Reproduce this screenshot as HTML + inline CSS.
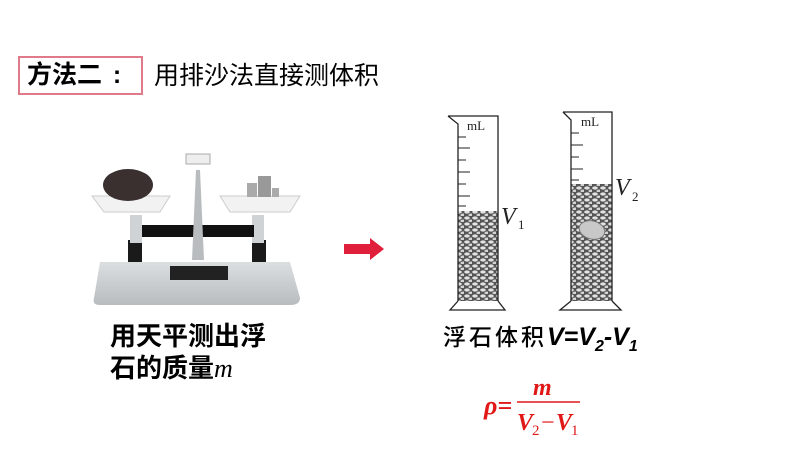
<!DOCTYPE html>
<html><head><meta charset="utf-8"><style>
html,body{margin:0;padding:0;background:#fff}
body{width:800px;height:450px;position:relative;overflow:hidden;font-family:"Liberation Sans","Noto Sans CJK SC",sans-serif}
.t{position:absolute;white-space:nowrap;color:#000}
</style></head><body>
<div style="position:absolute;left:18px;top:56px;width:125px;height:39px;border:2px solid #e07a88;box-sizing:border-box"></div>
<div class="t" style="left:27px;top:58px;font-size:25px;font-weight:bold;line-height:34px">方法二<span style="display:inline-block;width:30px;text-align:center">:</span></div>
<div class="t" style="left:154px;top:60px;font-size:25px;line-height:32px">用排沙法直接测体积</div>

<svg width="800" height="450" style="position:absolute;left:0;top:0">
<defs>
<pattern id="g" width="8" height="6" patternUnits="userSpaceOnUse">
<rect width="8" height="6" fill="#555"/>
<ellipse cx="3" cy="2" rx="2.8" ry="1.6" fill="#e2e2e2"/>
<ellipse cx="7" cy="5" rx="2.6" ry="1.5" fill="#d4d4d4"/>
</pattern>
<linearGradient id="base" x1="0" x2="0" y1="0" y2="1"><stop offset="0" stop-color="#dcdfe0"/><stop offset="1" stop-color="#b8bcbf"/></linearGradient>
</defs>
<!-- balance -->
<path d="M100 262 L290 262 L300 298 Q300 305 290 305 L100 305 Q92 305 94 298 Z" fill="url(#base)"/>
<rect x="170" y="266" width="58" height="14" fill="#222"/>
<rect x="128" y="240" width="14" height="22" fill="#1a1a1a"/>
<rect x="252" y="240" width="14" height="22" fill="#1a1a1a"/>
<rect x="130" y="215" width="12" height="28" fill="#cfd3d6"/>
<rect x="252" y="215" width="12" height="28" fill="#cfd3d6"/>
<rect x="142" y="225" width="112" height="12" fill="#111"/>
<path d="M196 170 L200 170 L204 260 L192 260 Z" fill="#b9bcbe"/>
<rect x="186" y="154" width="24" height="10" fill="#eee" stroke="#aaa"/>
<path d="M92 196 L170 196 L160 212 L104 212 Z" fill="#f2f2f2" stroke="#ccc"/>
<path d="M220 196 L300 196 L290 212 L230 212 Z" fill="#f2f2f2" stroke="#ccc"/>
<ellipse cx="128" cy="185" rx="25" ry="16" fill="#3a3030"/>
<rect x="247" y="183" width="10" height="14" fill="#aaa"/><rect x="258" y="176" width="13" height="21" fill="#999"/><rect x="272" y="188" width="7" height="9" fill="#aaa"/>
<!-- arrow -->
<path d="M344 244 L370 244 L370 238 L384 249 L370 260 L370 254 L344 254 Z" fill="#e0203a"/>
<!-- cylinder 1 -->
<rect x="458" y="211" width="40" height="90" fill="url(#g)"/>
<path d="M448 116 L498 116 L498 301 M448 116 L458 124 L458 301" fill="none" stroke="#222" stroke-width="1.3"/>
<path d="M458 301 L450 310 L505 310 L498 301" fill="none" stroke="#222" stroke-width="1.3"/>
<g stroke="#222" stroke-width="1">
<line x1="458" y1="137" x2="466" y2="137"/><line x1="458" y1="148" x2="470" y2="148"/><line x1="458" y1="160" x2="466" y2="160"/><line x1="458" y1="172" x2="470" y2="172"/><line x1="458" y1="184" x2="466" y2="184"/><line x1="458" y1="196" x2="470" y2="196"/><line x1="458" y1="206" x2="466" y2="206"/>
</g>
<text x="467" y="130" font-family="Liberation Serif" font-size="13" fill="#222">mL</text>
<!-- cylinder 2 -->
<rect x="571" y="184" width="41" height="117" fill="url(#g)"/>
<ellipse cx="592" cy="230" rx="13" ry="9" transform="rotate(15 592 230)" fill="#c8c8c8" stroke="#777"/>
<path d="M563 112 L612 112 L612 301 M563 112 L571 120 L571 301" fill="none" stroke="#222" stroke-width="1.3"/>
<path d="M571 301 L560 310 L621 310 L612 301" fill="none" stroke="#222" stroke-width="1.3"/>
<g stroke="#222" stroke-width="1">
<line x1="571" y1="133" x2="579" y2="133"/><line x1="571" y1="145" x2="583" y2="145"/><line x1="571" y1="157" x2="579" y2="157"/><line x1="571" y1="169" x2="583" y2="169"/><line x1="571" y1="180" x2="579" y2="180"/>
</g>
<text x="581" y="126" font-family="Liberation Serif" font-size="13" fill="#222">mL</text>
<text x="501" y="224" font-family="Liberation Serif" font-size="24" font-style="italic" fill="#222">V</text>
<text x="518" y="229" font-family="Liberation Serif" font-size="13" fill="#222">1</text>
<text x="615" y="195" font-family="Liberation Serif" font-size="24" font-style="italic" fill="#222">V</text>
<text x="632" y="201" font-family="Liberation Serif" font-size="13" fill="#222">2</text>
<!-- formula -->
<text x="484" y="414" font-family="Liberation Serif" font-size="26" font-style="italic" font-weight="bold" fill="#e01818">ρ=</text>
<text x="533" y="395" font-family="Liberation Serif" font-size="24" font-style="italic" font-weight="bold" fill="#e01818">m</text>
<line x1="517" y1="402" x2="580" y2="402" stroke="#e01818" stroke-width="1.5"/>
<text x="517" y="430" font-family="Liberation Serif" font-size="24" font-style="italic" font-weight="bold" fill="#e01818">V</text>
<text x="532" y="435" font-family="Liberation Serif" font-size="15" fill="#e01818">2</text>
<text x="541" y="430" font-family="Liberation Serif" font-size="24" fill="#e01818">−</text>
<text x="556" y="430" font-family="Liberation Serif" font-size="24" font-style="italic" font-weight="bold" fill="#e01818">V</text>
<text x="571" y="435" font-family="Liberation Serif" font-size="15" fill="#e01818">1</text>
</svg>

<div class="t" style="left:110px;top:320px;font-size:26px;font-weight:bold;line-height:32px">用天平测出浮</div>
<div class="t" style="left:110px;top:352px;font-size:26px;font-weight:bold;line-height:32px">石的质量<span style="font-family:'Liberation Serif';font-style:italic;font-weight:normal">m</span></div>
<div class="t" style="left:443px;top:321px;font-size:23px;line-height:32px;letter-spacing:3px;font-weight:500">浮石体积<b style="font-style:italic;font-size:25px;letter-spacing:0">V=V<sub style="font-size:16px">2</sub>-V<sub style="font-size:16px">1</sub></b></div>
</body></html>
